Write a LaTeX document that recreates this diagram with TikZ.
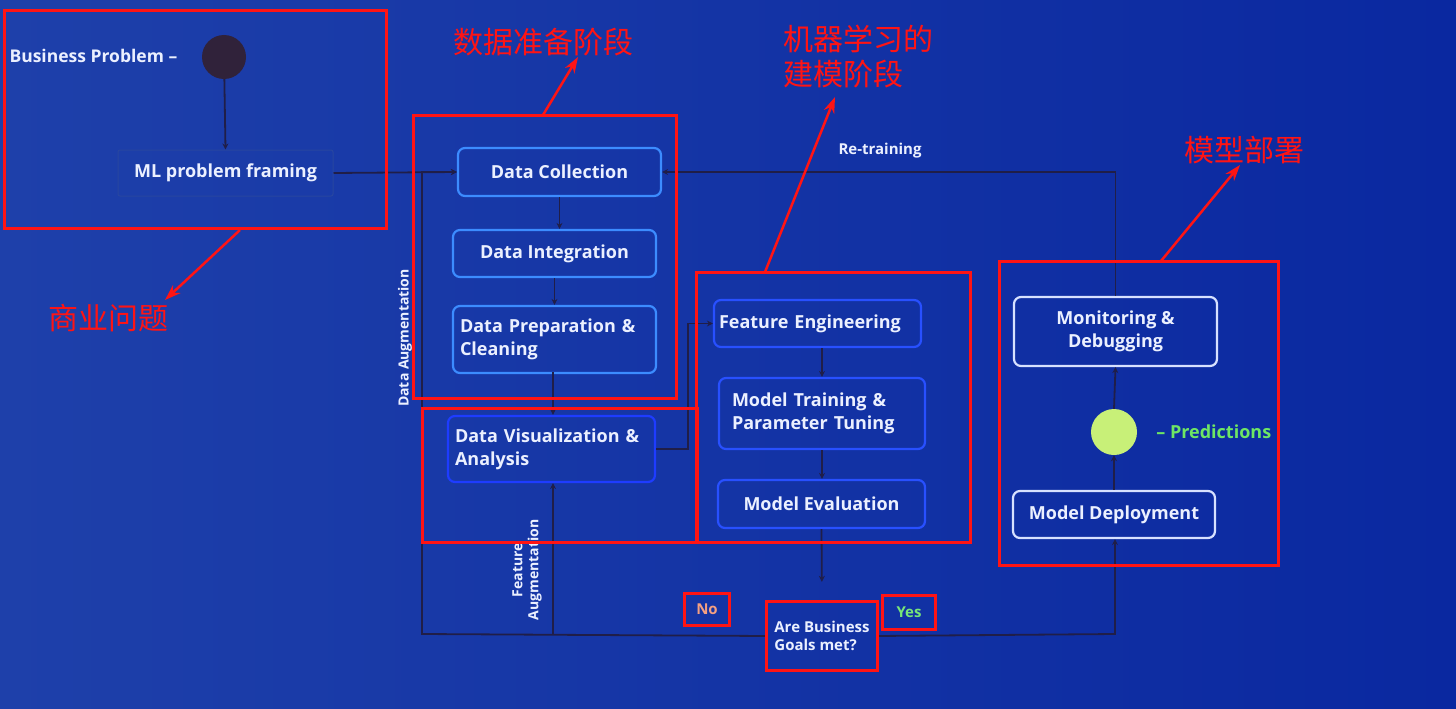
\documentclass[tikz,border=0pt]{standalone}
\usepackage{fontspec}
\setmainfont{Open Sans}
\newfontfamily\cjk{Noto Sans CJK SC}
\usetikzlibrary{arrows.meta,calc}
\definecolor{bgL}{RGB}{30,64,170}
\definecolor{bgR}{RGB}{10,40,160}
\definecolor{txt}{RGB}{235,240,255}
\definecolor{conn}{RGB}{32,30,72}
\definecolor{prepB}{RGB}{60,140,255}
\definecolor{visB}{RGB}{30,60,255}
\definecolor{mlB}{RGB}{40,80,255}
\definecolor{depB}{RGB}{215,225,255}
\definecolor{frameB}{RGB}{40,70,160}
\definecolor{anno}{RGB}{255,20,20}
\definecolor{noC}{RGB}{245,160,130}
\definecolor{yesC}{RGB}{120,230,120}
\definecolor{predC}{RGB}{110,230,100}
\definecolor{dot}{RGB}{48,34,58}
\definecolor{gdot}{RGB}{200,240,120}
\begin{document}
\begin{tikzpicture}[x=1pt,y=-1pt,
  every node/.style={text=txt},
  stagebox/.style={draw, rounded corners=7pt, line width=2.2pt, inner sep=0pt,
     font=\bfseries\fontsize{18}{23}\selectfont, align=center},
  wrapbox/.style={stagebox, align=left},
  conline/.style={draw=conn, line width=1.8pt},
  conarrow/.style={conline, -{Stealth[length=6pt,width=6pt]}},
  redframe/.style={draw=anno, line width=3pt},
  annoarrow/.style={draw=anno, line width=2.5pt, -{Stealth[length=16pt,width=11pt]}},
  annotext/.style={text=anno, font=\cjk\fontsize{30}{35}\selectfont, align=left},
  small/.style={font=\bfseries\fontsize{15}{18}\selectfont, align=left}
]
\useasboundingbox (0,0) rectangle (1456,709);
\shade[left color=bgL, right color=bgR] (0,0) rectangle (1456,709);

% ---- business problem ----
\node[font=\bfseries\fontsize{17.5}{20}\selectfont, anchor=west] (bpt) at (6,56) {Business Problem –};
\node[circle, fill=dot, minimum size=44pt, inner sep=0pt] (bp) at (224,57) {};
\node[stagebox, draw=frameB, line width=1pt, rounded corners=2pt, minimum width=215pt, minimum height=46pt] (mlpf) at (225.5,173) {ML problem framing};

% ---- data preparation ----
\node[stagebox, draw=prepB, minimum width=203pt, minimum height=48pt] (dc) at (559.5,172) {Data Collection};
\node[stagebox, draw=prepB, minimum width=203pt, minimum height=47pt] (di) at (554.5,253.5) {Data Integration};
\node[wrapbox, draw=prepB, minimum width=203pt, minimum height=67pt, text width=189pt] (dp) at (554.5,339.5) {Data Preparation \&\\Cleaning};
\node[wrapbox, draw=visB, minimum width=207pt, minimum height=66pt, text width=193pt] (dv) at (551.5,449) {Data Visualization \&\\Analysis};

% ---- modelling ----
\node[wrapbox, draw=mlB, minimum width=207pt, minimum height=47pt, text width=197pt] (fe) at (817.5,323.5) {Feature Engineering};
\node[wrapbox, draw=mlB, minimum width=206pt, minimum height=71pt, text width=180pt] (mt) at (822,413.5) {Model Training \&\\Parameter Tuning};
\node[stagebox, draw=mlB, minimum width=207pt, minimum height=48pt] (me) at (821.5,504) {Model Evaluation};

% ---- decision ----
\node[small, minimum width=110pt, minimum height=68pt, align=left] (q) at (822,636) {Are Business\\Goals met?};
\node[small, text=noC, minimum width=44pt, minimum height=31pt, align=center] (no) at (707,609.5) {No};
\node[small, text=yesC, minimum width=52pt, minimum height=33pt, align=center] (yes) at (909,612.5) {Yes};

% ---- deployment ----
\node[stagebox, draw=depB, minimum width=203pt, minimum height=69pt] (mon) at (1115.5,331.5) {Monitoring \&\\Debugging};
\node[circle, fill=gdot, minimum size=46pt, inner sep=0pt] (pred) at (1114,432) {};
\node[anchor=west, text=predC, font=\bfseries\fontsize{18}{20}\selectfont, inner sep=2pt, xshift=17pt] (predt) at (pred.east) {– Predictions};
\node[stagebox, draw=depB, minimum width=202pt, minimum height=47pt] (md) at (1114,514.5) {Model Deployment};

% ---- connector labels ----
\node[font=\bfseries\fontsize{15}{17}\selectfont] (rt) at (880,151) {Re-training};
\node[font=\bfseries\fontsize{14}{16}\selectfont, rotate=90] (da) at (405,338) {Data Augmentation};
\node[font=\bfseries\fontsize{14}{16}\selectfont, rotate=90, align=center] (fa) at (527,570) {Feature\\Augmentation};

% ---- coordinates for corners ----
\coordinate (nL) at (422,634);
\coordinate (fL) at (553,634);
\coordinate (yR) at (1115,634);
\coordinate (vj) at (688,449);

% ---- connectors ----
\draw[conarrow] (bp) -- (mlpf.north);
\draw[conarrow] (mlpf.east) -- (dc.west);
\draw[conarrow] (dc.south) -- (dc.south |- di.north);
\draw[conarrow] (di.south) -- (di.south |- dp.north);
\draw[conarrow] (dv.north -| fL) ++(0,-43) -- (dv.north -| fL);
\draw[conarrow] (dv.east) -- (vj) |- (fe.west);
\draw[conarrow] (mt.north |- fe.south) -- (mt.north);
\draw[conarrow] (mt.south) -- (mt.south |- me.north);
\draw[conarrow, shorten >=20pt] (me.south) -- (q.north);
\draw[conarrow] (q.west) -- (nL) |- (dc.west);
\draw[conarrow] (fL) -- (dv.south -| fL);
\draw[conarrow] (q.east) -- (yR) -- (md.south -| yR);
\draw[conarrow] (md.north) -- (pred.south);
\draw[conarrow] (pred.north) -- (mon.south);
\draw[conarrow] (mon.north) |- (dc.east);

% ---- red annotation frames ----
\draw[redframe] (4,11) rectangle (386,228);
\draw[redframe] (413,115) rectangle (676,398);
\draw[redframe] (422,408) rectangle (697,542);
\draw[redframe] (696,272) rectangle (970,542);
\draw[redframe] (999,261) rectangle (1278,565);
\draw[redframe] (no.north west) rectangle (no.south east);
\draw[redframe] (q.north west) rectangle (q.south east);
\draw[redframe] (yes.north west) rectangle (yes.south east);

% ---- red annotation labels ----
\node[annotext, anchor=west, inner sep=0pt] (t1) at (48,318) {商业问题};
\node[annotext, anchor=west, inner sep=0pt] (t2) at (453,42) {数据准备阶段};
\node[annotext, anchor=north west, inner sep=0pt] (t3) at (783,25) {机器学习的\\建模阶段};
\node[annotext, anchor=west, inner sep=0pt] (t4) at (1184,150) {模型部署};

\coordinate (a1) at (240,230);
\coordinate (a2) at (543,115);
\coordinate (a3) at (765,272);
\coordinate (a4) at (1161,261);
\draw[annoarrow] (a1) -- (165,300);
\draw[annoarrow] (a2) -- (578,57);
\draw[annoarrow] (a3) -- (835,97);
\draw[annoarrow] (a4) -- (1240,165);
\end{tikzpicture}
\end{document}
